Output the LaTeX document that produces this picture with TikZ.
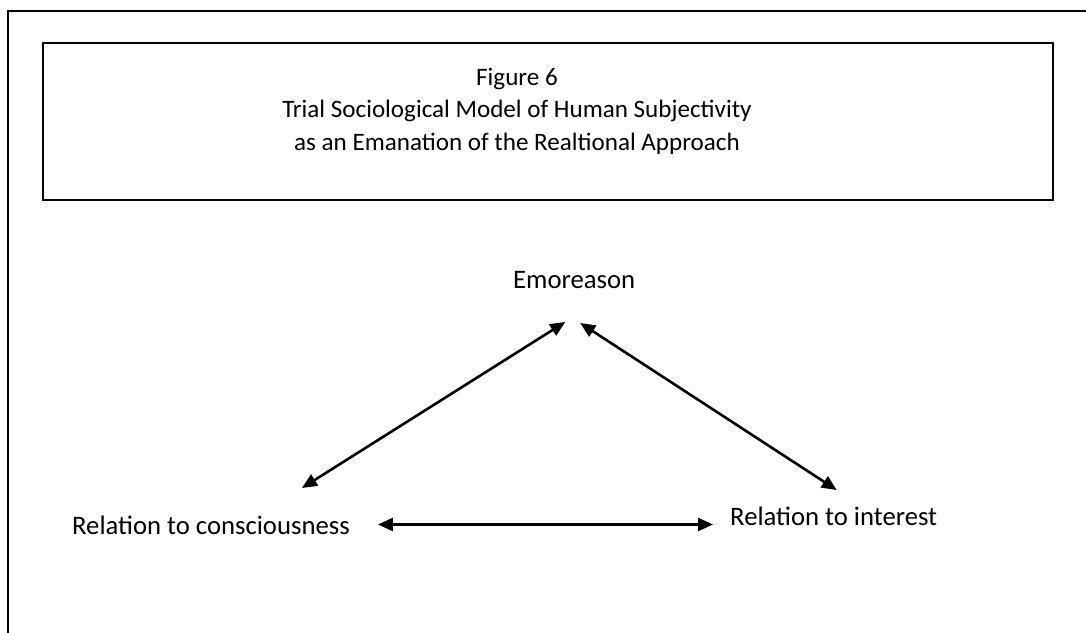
\documentclass[tikz,border=0pt]{standalone}
\usepackage{fontspec}
\setmainfont{Carlito}
\usetikzlibrary{arrows.meta,calc}

\begin{document}
\begin{tikzpicture}[x=1pt, y=1pt,
  frame/.style   ={draw, line width=2.8pt},
  titlebox/.style={draw, line width=2.8pt, rectangle,
                   minimum width=1010pt, minimum height=157pt, inner sep=0pt},
  heading/.style ={align=center, inner sep=0pt,
                   font=\fontsize{25.1}{32.5}\selectfont},
  term/.style    ={inner sep=0pt, font=\fontsize{26.7}{32}\selectfont},
  biarr/.style   ={{Triangle[length=15pt,width=13pt]}-{Triangle[length=15pt,width=13pt]},
                   line width=2.6pt}
]

\useasboundingbox (0,0) rectangle (1086,632);
\clip (0,0) rectangle (1086,632);

%% ── Page frame (runs past the right and bottom edges) ────────────────
\draw[frame] (8,-20) rectangle (1110,621);

%% ── Title box ────────────────────────────────────────────────────────
\node[titlebox] (titlebox) at (548,510.5) {};
\node[heading] (title) at (517,521)
    {Figure 6\\
     Trial Sociological Model of Human Subjectivity\\
     as an Emanation of the Realtional Approach};

%% ── Model terms ──────────────────────────────────────────────────────
\node[term, anchor=base west] (emo)  at (513,343) {Emoreason};
\node[term, anchor=base west] (cons) at (72,98)   {Relation to consciousness};
\node[term, anchor=base west] (int)  at (730,107) {Relation to interest};

\draw[biarr] ($(emo.base)+(-9,-33)$) -- ($(cons.base)+(91,46)$);
\draw[biarr] ($(emo.base)+(6,-34)$)  -- ($(int.base)+(3,35)$);
\draw[biarr] ($(cons.base east)+(28,9.5)$) -- ($(int.base west)+(-17,0.5)$);

\end{tikzpicture}
\end{document}
